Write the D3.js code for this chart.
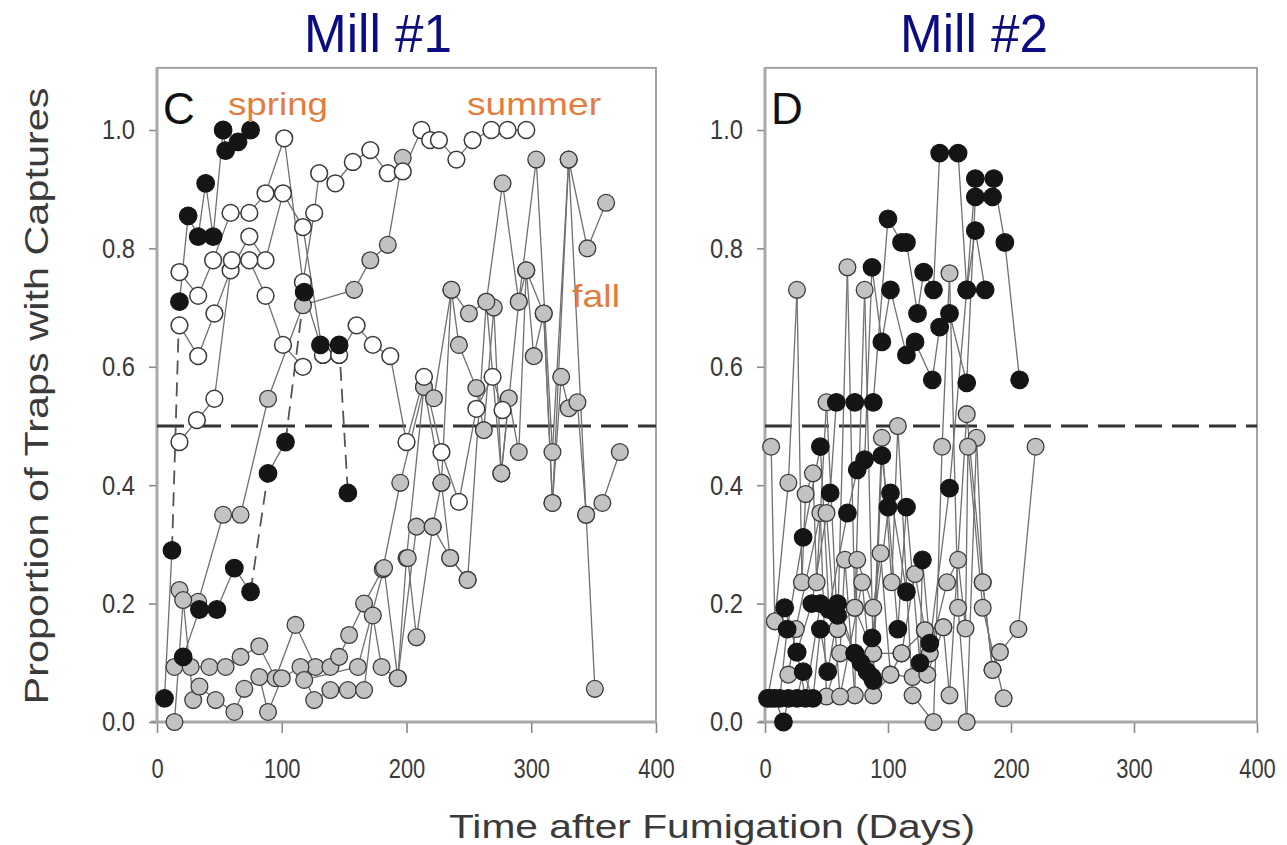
<!DOCTYPE html>
<html>
<head>
<meta charset="utf-8">
<script src="https://cdn.jsdelivr.net/npm/d3@7"></script>
<style>
  html, body { margin: 0; padding: 0; background: #fff; }
  svg { display: block; }
  text { font-family: "Liberation Sans Narrow", "Liberation Sans", Arial, sans-serif; }
</style>
</head>
<body>
<svg id="chart" width="1287" height="845"></svg>
<script>
// ---- Mill #1 (panel C): [day, proportion of traps with captures]
const millC_black1 = [[6,0.04],[12,0.29],[18,0.71],[25,0.855],[33,0.82],[39,0.91],[45,0.82],[53,1.0],[55,0.965],[65,0.98],[75,1.0]];
const millC_black1_dashed = [1];
const millC_black2 = [[21,0.11],[34,0.19],[48,0.19],[62,0.26],[75,0.22],[89,0.42],[103,0.473],[118,0.726],[131,0.637],[146,0.637],[153,0.387]];
const millC_black2_dashed = [4, 6, 9];

const millC_open1 = [[18,0.76],[33,0.72],[45,0.78],[59,0.86],[74,0.86],[87,0.893],[102,0.986],[117,0.743],[126,0.86],[130,0.927],[143,0.91],[157,0.946],[171,0.966],[185,0.927],[197,0.93],[212,1.0],[219,0.983],[226,0.983],[240,0.95],[253,0.983],[268,1.0],[281,1.0],[296,1.0]];
const millC_open2 = [[18,0.67],[33,0.618],[46,0.69],[59,0.763],[74,0.82],[87,0.78],[101,0.893],[117,0.836],[133,0.62],[146,0.62],[160,0.67],[173,0.637],[187,0.618],[200,0.473],[214,0.583],[228,0.456],[242,0.372],[256,0.529],[269,0.583],[277,0.527]];
const millC_open3 = [[18,0.473],[32,0.51],[46,0.546],[60,0.78],[74,0.78],[87,0.72],[101,0.637],[117,0.6]];
const millC_open3_dashed = [];

const millC_grey1 = [[18,0.223],[33,0.203],[53,0.35],[67,0.35],[89,0.546],[117,0.704],[158,0.73],[171,0.78],[185,0.806],[197,0.953]];
const millC_grey2 = [[14,0.093],[27,0.093],[42,0.093],[55,0.093],[67,0.11],[82,0.128],[95,0.074],[111,0.164],[127,0.093],[139,0.093],[146,0.11],[154,0.147],[166,0.2],[181,0.258],[195,0.404],[214,0.566],[228,0.404],[236,0.73],[250,0.69],[264,0.71],[277,0.91],[290,0.71],[304,0.95],[317,0.456],[330,0.95],[345,0.80],[360,0.877]];
const millC_grey3 = [[14,0.0],[21,0.206],[29,0.037],[34,0.06],[47,0.037],[62,0.017],[70,0.056],[82,0.076],[89,0.017],[100,0.074],[115,0.093],[126,0.037],[139,0.054],[153,0.054],[166,0.054],[173,0.18],[180,0.093],[193,0.074],[208,0.33],[221,0.33],[235,0.277],[249,0.24]];
const millC_grey4 = [[118,0.071],[161,0.093],[182,0.26],[193,0.074],[200,0.277],[214,0.566],[222,0.547],[236,0.73],[242,0.637],[256,0.564],[262,0.493],[270,0.70],[276,0.42],[282,0.547],[290,0.456],[296,0.763],[302,0.618],[310,0.69],[317,0.37],[324,0.583],[330,0.53],[337,0.54],[344,0.35],[351,0.056]];
const millC_grey5 = [[201,0.277],[208,0.143],[221,0.33],[228,0.404],[235,0.277],[249,0.24],[264,0.71],[276,0.42],[290,0.71],[296,0.763],[310,0.69],[317,0.37],[330,0.95],[344,0.35],[357,0.37],[371,0.456]];

// ---- Mill #2 (panel D)
const millD_black1 = [[2,0.04],[16,0.193],[26,0.118],[38,0.2],[53,0.387],[58,0.54],[73,0.54],[88,0.54],[100,0.85],[111,0.81],[115,0.81],[124,0.69],[129,0.76],[137,0.73],[142,0.961],[157,0.961],[164,0.73],[171,0.918],[186,0.918],[195,0.81],[207,0.578]];
const millD_black2 = [[5,0.04],[12,0.04],[18,0.157],[31,0.312],[45,0.465],[52,0.19],[67,0.353],[75,0.426],[81,0.443],[87,0.768],[95,0.642],[102,0.73],[115,0.62],[122,0.642],[136,0.578],[142,0.667],[150,0.69],[164,0.573],[171,0.887],[185,0.887]];
const millD_black3 = [[8,0.04],[15,0.0],[19,0.04],[26,0.04],[31,0.085],[39,0.04],[45,0.157],[51,0.085],[59,0.18],[73,0.116],[78,0.1],[83,0.085],[88,0.07],[95,0.45],[100,0.363],[108,0.157],[115,0.363],[126,0.1],[128,0.274],[134,0.133],[150,0.395],[164,0.73],[171,0.83],[179,0.73]];
const millD_black4 = [[26,0.118],[33,0.04],[45,0.2],[59,0.2],[73,0.116],[87,0.076],[87,0.142],[102,0.387],[115,0.22]];

const millD_grey1 = [[5,0.465],[8,0.17],[19,0.404],[26,0.73],[30,0.236],[33,0.385],[39,0.42],[42,0.236],[50,0.54],[59,0.157],[67,0.768],[73,0.193],[81,0.73],[88,0.116],[95,0.48],[103,0.236],[108,0.50],[120,0.045],[137,0.0],[144,0.465],[150,0.758],[157,0.193],[164,0.0],[172,0.48],[177,0.236],[185,0.088],[191,0.118],[206,0.157],[220,0.465]];
const millD_grey2 = [[19,0.08],[25,0.157],[45,0.353],[50,0.043],[61,0.116],[65,0.274],[73,0.045],[75,0.274],[88,0.193],[94,0.285],[102,0.08],[111,0.116],[122,0.25],[130,0.155],[134,0.116],[148,0.236],[157,0.274],[163,0.158],[165,0.465],[177,0.193],[194,0.04]];
const millD_grey3 = [[50,0.353],[61,0.043],[79,0.236],[88,0.045],[102,0.08],[120,0.076],[132,0.08],[145,0.16],[150,0.045],[164,0.52],[177,0.236],[185,0.088]];
const millD_grey4 = [[59,0.157],[73,0.193],[88,0.116],[111,0.116],[130,0.155],[145,0.16]];

// ---- axes
const xTicks = [0, 100, 200, 300, 400];
const yTicks = [0, 0.2, 0.4, 0.6, 0.8, 1.0];
const threshold = 0.5;
const panelTitles = ["Mill #1", "Mill #2"];
const panelLetters = ["C", "D"];
const seasonLabels = ["spring", "summer", "fall"];
const xTitle = "Time after Fumigation (Days)";
const yTitle = "Proportion of Traps with Captures";

const svg = d3.select("#chart");
const y = d3.scaleLinear([0, 1], [722, 130]);
const yTop = 1.105;

const panels = [
  {
    x: d3.scaleLinear([0, 400], [157, 656]),
    title: panelTitles[0], letter: panelLetters[0], titleX: 378,
    black: [[millC_black1, millC_black1_dashed], [millC_black2, millC_black2_dashed]],
    open: [[millC_open1, []], [millC_open2, []], [millC_open3, millC_open3_dashed]],
    grey: [[millC_grey1, []], [millC_grey2, []], [millC_grey3, []], [millC_grey4, []], [millC_grey5, []]]
  },
  {
    x: d3.scaleLinear([0, 400], [765, 1257]),
    title: panelTitles[1], letter: panelLetters[1], titleX: 974,
    black: [[millD_black1, []], [millD_black2, []], [millD_black3, []], [millD_black4, []]],
    open: [],
    grey: [[millD_grey1, []], [millD_grey2, []], [millD_grey3, []], [millD_grey4, []]]
  }
];

const lineColor = "#707070";

// condensed look for short numeric labels
const narrow = (sel, perChar) => sel.each(function () {
  const t = d3.select(this);
  t.attr("textLength", t.text().length * perChar).attr("lengthAdjust", "spacingAndGlyphs");
});

panels.forEach(p => {
  const x = p.x;
  const g = svg.append("g");
  const x0 = x.range()[0], x1 = x.range()[1];

  // frame
  g.append("rect")
    .attr("x", x0).attr("y", y(yTop))
    .attr("width", x1 - x0).attr("height", y(0) - y(yTop))
    .attr("fill", "none").attr("stroke", "#9a9a9a").attr("stroke-width", 1.8);
  g.append("line").attr("x1", x0).attr("x2", x0).attr("y1", y(yTop)).attr("y2", y(0) + 1)
    .attr("stroke", "#a8a8a8").attr("stroke-width", 3);
  g.append("line").attr("x1", x0 - 6).attr("x2", x1 + 1).attr("y1", y(0)).attr("y2", y(0))
    .attr("stroke", "#a8a8a8").attr("stroke-width", 3);

  // axes through d3-axis, restyled
  const yAxis = g.append("g").attr("transform", `translate(${x0 - 1},0)`)
    .call(d3.axisLeft(y).tickValues(yTicks).tickFormat(d3.format(".1f")).tickSize(7).tickPadding(14));
  const xAxis = g.append("g").attr("transform", `translate(0,${y(0) + 1})`)
    .call(d3.axisBottom(x).tickValues(xTicks).tickFormat(d3.format("d")).tickSize(10).tickPadding(25));
  [yAxis, xAxis].forEach(a => {
    a.select(".domain").remove();
    a.selectAll(".tick line").attr("stroke", "#8a8a8a").attr("stroke-width", 1.6);
    a.selectAll(".tick text").attr("fill", "#3a3a3a").attr("font-size", 28)
      .style("font-family", "'Liberation Sans', Arial, sans-serif");
  });
  yAxis.selectAll(".tick text").call(narrow, 11);
  xAxis.selectAll(".tick text").attr("dy", "0.71em").call(narrow, 12.2);

  // 50% reference line
  g.append("line")
    .attr("x1", x0).attr("x2", x1).attr("y1", y(threshold)).attr("y2", y(threshold))
    .attr("stroke", "#333").attr("stroke-width", 3).attr("stroke-dasharray", "27,10");

  // connecting lines (solid or dashed per segment)
  const plotG = g.append("g");
  const allSeries = [...p.grey, ...p.open, ...p.black];
  allSeries.forEach(([pts, dashed]) => {
    for (let i = 0; i < pts.length - 1; i++) {
      plotG.append("line")
        .attr("x1", x(pts[i][0])).attr("y1", y(pts[i][1]))
        .attr("x2", x(pts[i + 1][0])).attr("y2", y(pts[i + 1][1]))
        .attr("stroke", dashed.includes(i) ? "#555" : lineColor)
        .attr("stroke-width", dashed.includes(i) ? 1.8 : 1.3)
        .attr("stroke-dasharray", dashed.includes(i) ? "14,8" : null);
    }
  });

  const drawPts = (list, fill, stroke, sw, r) => {
    list.forEach(([pts]) => {
      plotG.append("g").selectAll("circle").data(pts).join("circle")
        .attr("cx", d => x(d[0])).attr("cy", d => y(d[1])).attr("r", r)
        .attr("fill", fill).attr("stroke", stroke).attr("stroke-width", sw);
    });
  };
  drawPts(p.grey, "#c2c2c2", "#3a3a3a", 1.3, 8.4);
  drawPts(p.open, "#ffffff", "#3a3a3a", 1.5, 8.4);
  drawPts(p.black, "#151515", "#151515", 1.2, 8.8);

  // panel title and letter
  svg.append("text").attr("x", p.titleX).attr("y", 52).attr("text-anchor", "middle")
    .attr("font-size", 54).attr("fill", "#0c0c82")
    .style("font-family", "'Liberation Sans', Arial, sans-serif")
    .attr("textLength", 148).attr("lengthAdjust", "spacingAndGlyphs")
    .text(p.title);
  svg.append("text").attr("x", x0 + 6).attr("y", 124)
    .attr("font-size", 44).attr("fill", "#111")
    .style("font-family", "'Liberation Sans', Arial, sans-serif")
    .text(p.letter);
});

// season annotations (Mill #1)
const orange = "#e47c3e";
const seasonStyle = sel => sel.attr("font-size", 32).attr("fill", orange)
  .style("font-family", "'Liberation Sans', Arial, sans-serif");
svg.append("text").attr("x", 228).attr("y", 115).attr("textLength", 100).attr("lengthAdjust", "spacingAndGlyphs").call(seasonStyle).text(seasonLabels[0]);
svg.append("text").attr("x", 467).attr("y", 115).attr("textLength", 134).attr("lengthAdjust", "spacingAndGlyphs").call(seasonStyle).text(seasonLabels[1]);
svg.append("text").attr("x", 572).attr("y", 307).attr("textLength", 48).attr("lengthAdjust", "spacingAndGlyphs").call(seasonStyle).text(seasonLabels[2]);

// axis titles
svg.append("text").attr("x", 712).attr("y", 838).attr("text-anchor", "middle")
  .attr("font-size", 34).attr("fill", "#3a3a3a")
  .style("font-family", "'Liberation Sans', Arial, sans-serif")
  .attr("textLength", 526).attr("lengthAdjust", "spacingAndGlyphs")
  .text(xTitle);
svg.append("text").attr("transform", "translate(48,396) rotate(-90)").attr("text-anchor", "middle")
  .attr("font-size", 34).attr("fill", "#3a3a3a")
  .style("font-family", "'Liberation Sans', Arial, sans-serif")
  .attr("textLength", 617).attr("lengthAdjust", "spacingAndGlyphs")
  .text(yTitle);
</script>
</body>
</html>
